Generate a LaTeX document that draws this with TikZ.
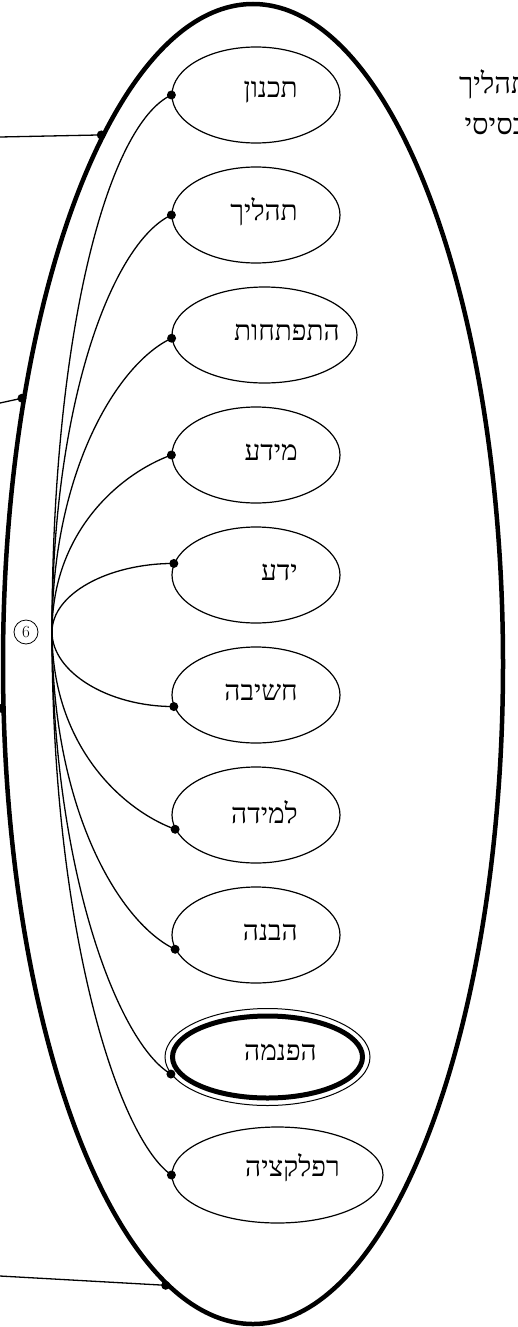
\documentclass[tikz,border=0pt]{standalone}
\usepackage{fontspec}
\newfontfamily\heb[Script=Hebrew]{Liberation Serif}
\TeXXeTstate=1
\usetikzlibrary{shapes.geometric,calc}
\begin{document}
\begin{tikzpicture}[x=1pt,y=1pt,
  bub/.style={ellipse, draw, line width=1.2pt, minimum width=168pt, minimum height=96pt, inner sep=0pt},
  lbl/.style={anchor=east, inner sep=0pt, font=\heb\fontsize{28}{32}\selectfont},
  conn/.style={line width=1.3pt},
  dotc/.style={circle, fill, inner sep=0pt, minimum size=9pt}
]
\useasboundingbox (0,0) rectangle (517,-1327);
% outer ellipse
\node[ellipse, draw, line width=4.5pt, minimum width=500pt, minimum height=1320pt, inner sep=0pt] (big) at (253,-664) {};
% inner ellipses
\node[bub] (e1) at (256,-95) {};
\node[bub] (e2) at (256,-215) {};
\node[bub, minimum width=185pt] (e3) at (264.5,-335) {};
\node[bub] (e4) at (256,-455) {};
\node[bub] (e5) at (256,-575) {};
\node[bub] (e6) at (256,-695) {};
\node[bub] (e7) at (256,-815) {};
\node[bub] (e8) at (256,-935) {};
\node[ellipse, draw, line width=1pt, minimum width=205pt, minimum height=97pt, inner sep=0pt] (e9) at (267.5,-1057) {};
\draw[line width=5pt] (e9.center) ellipse [x radius=95, y radius=41];
\node[bub, minimum width=211pt] (e10) at (277.5,-1175) {};
% labels
\node[lbl] (t1) at (298,-92) {\beginR תכנון\endR};
\node[lbl] (t2) at (298,-212) {\beginR תהליך\endR};
\node[lbl] (t3) at (340,-332) {\beginR התפתחות\endR};
\node[lbl] (t4) at (298,-452) {\beginR מידע\endR};
\node[lbl] (t5) at (298,-572) {\beginR ידע\endR};
\node[lbl] (t6) at (298,-692) {\beginR חשיבה\endR};
\node[lbl] (t7) at (298,-812) {\beginR למידה\endR};
\node[lbl] (t8) at (298,-932) {\beginR הבנה\endR};
\node[lbl] (t9) at (317,-1052) {\beginR הפנמה\endR};
\node[lbl] (t10) at (340,-1168) {\beginR רפלקציה\endR};
% top right text (cut by the border)
\node[lbl, font=\heb\fontsize{29}{34}\selectfont] (tr1) at (529,-84) {\beginR תהליך\endR};
\node[lbl, font=\heb\fontsize{29}{34}\selectfont] (tr2) at (527,-126) {\beginR בסיסי\endR};
% hub
\coordinate (hub) at (52,-632);
\node[circle, draw, line width=0.8pt, minimum size=24pt, inner sep=0pt, font=\fontsize{17}{17}\selectfont] (six) at (26,-632) {6};
% connectors hub -> ellipses
\draw[conn] (hub) .. controls +(90:300) and +(205:70) .. (e1.180);
\draw[conn] (hub) .. controls +(90:230) and +(205:65) .. (e2.180);
\draw[conn] (hub) .. controls +(90:160) and +(205:60) .. (e3.182);
\draw[conn] (hub) .. controls +(90:100) and +(200:55) .. (e4.180);
\draw[conn] (hub) .. controls +(90:38) and +(180:66) .. (e5.172);
\draw[conn] (hub) .. controls +(270:40) and +(180:66) .. (e6.188);
\draw[conn] (hub) .. controls +(270:115) and +(160:55) .. (e7.190);
\draw[conn] (hub) .. controls +(270:180) and +(155:60) .. (e8.190);
\draw[conn] (hub) .. controls +(270:240) and +(150:60) .. (e9.190);
\draw[conn] (hub) .. controls +(270:300) and +(145:65) .. (e10.180);
\foreach \n/\a in {e1/180,e2/180,e3/182,e4/180,e5/172,e6/188,e7/190,e8/190,e9/190,e10/180}
  \node[dotc] at (\n.\a) {};
% left lines to the big ellipse
\coordinate (L1) at (0,-137);
\coordinate (L2) at (0,-403);
\coordinate (L3) at (0,-711);
\coordinate (L4) at (0,-1276);
\draw[conn] (L1) -- (big.106.5);
\draw[conn] (L2) -- (big.131.9);
\draw[conn] (L3) -- (big.190.7);
\draw[conn] (L4) -- (big.262.5);
\foreach \a in {106.5,131.9,190.7,262.5}
  \node[dotc] at (big.\a) {};
\end{tikzpicture}
\end{document}
